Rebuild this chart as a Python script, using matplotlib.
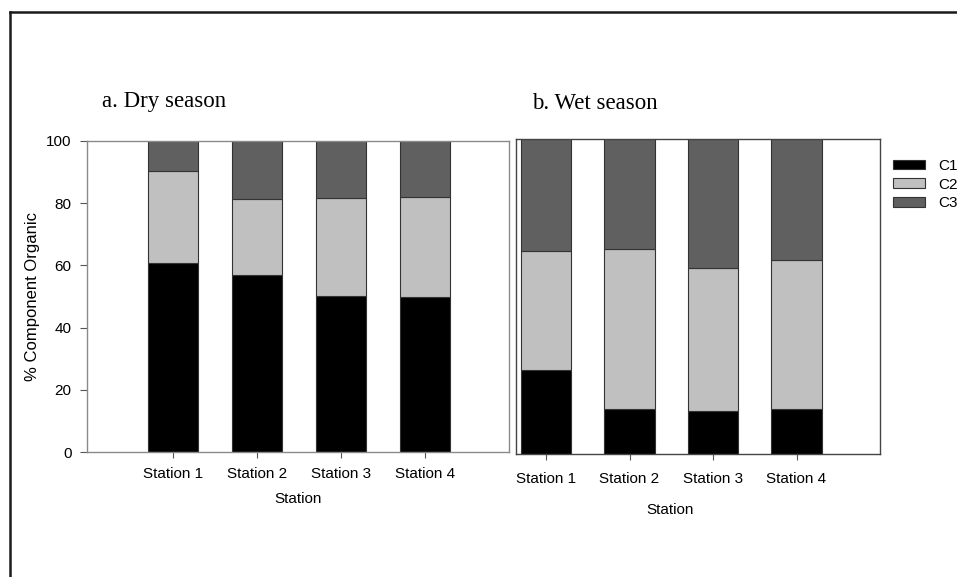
import matplotlib
matplotlib.use("Agg")
import matplotlib.pyplot as plt
from matplotlib.lines import Line2D
import numpy as np

# ── DATA ──────────────────────────────────────────────────
stations = ["Station 1", "Station 2", "Station 3", "Station 4"]
components = ["C1", "C2", "C3"]

# percent of each organic component per station
dry_c1 = [60.8, 56.8, 50.3, 49.9]
dry_c2 = [29.5, 24.4, 31.3, 32.0]
dry_c3 = [9.7, 18.8, 18.4, 18.1]

wet_c1 = [26.7, 14.4, 13.7, 14.2]
wet_c2 = [37.8, 50.8, 45.5, 47.5]
wet_c3 = [35.5, 34.8, 40.8, 38.3]

colors = ["#000000", "#c0c0c0", "#606060"]
edge = "#333333"

plt.rcParams["font.family"] = ["Liberation Sans", "DejaVu Sans"]

fig = plt.figure(figsize=(9.57, 5.77), dpi=100)
W, H = 957, 577


def px_axes(x0, y0, x1, y1):
    # axes from pixel box (top-left origin)
    return fig.add_axes([x0 / W, (H - y1) / H, (x1 - x0) / W, (y1 - y0) / H])


def stacked(ax, c1, c2, c3):
    x = np.arange(len(stations))
    bottom = np.zeros(len(stations))
    for vals, col, name in zip([c1, c2, c3], colors, components):
        ax.bar(x, vals, width=0.6, bottom=bottom, color=col,
               edgecolor=edge, linewidth=0.8, label=name)
        bottom += np.array(vals)
    ax.set_xticks(x)
    ax.set_xticklabels(stations, fontsize=11)
    ax.set_ylim(0, 100)
    ax.set_xlabel("Station", fontsize=11, labelpad=8)
    ax.tick_params(axis="x", direction="out", length=4, pad=7,
                   color="#555555")


# ── a. DRY SEASON ─────────────────────────────────────────
ax1 = px_axes(87, 141, 509, 452)
stacked(ax1, dry_c1, dry_c2, dry_c3)
ax1.set_xlim(-1.02, 4.0)
ax1.set_yticks([0, 20, 40, 60, 80, 100])
ax1.tick_params(axis="y", direction="out", length=5, pad=6,
                labelsize=11, color="#555555")
ax1.set_ylabel("% Component Organic", fontsize=12)
ax1.yaxis.set_label_coords(-0.112, 0.5)
for s in ax1.spines.values():
    s.set_color("#8a8a8a")
    s.set_linewidth(1.0)

# ── b. WET SEASON ─────────────────────────────────────────
ax2 = px_axes(516, 139, 880, 454)
stacked(ax2, wet_c1, wet_c2, wet_c3)
ax2.set_xlim(-0.36, 4.0)
ax2.set_yticks([])
for s in ax2.spines.values():
    s.set_color("#444444")
    s.set_linewidth(1.0)
ax2.tick_params(axis="x", pad=9)
ax2.xaxis.set_label_coords(0.423, -0.155)

# legend
handles, labels = ax2.get_legend_handles_labels()
fig.legend(handles, labels, loc="upper left",
           bbox_to_anchor=(893 / W, (H - 159) / H),
           frameon=False, fontsize=11, borderpad=0, borderaxespad=0,
           handlelength=2.1, handleheight=0.6, handletextpad=0.85,
           labelspacing=0.3)

# panel titles
fig.text(102 / W, (H - 106.5) / H, "a. Dry season", fontsize=16.5,
         family="Liberation Serif", va="baseline")
fig.text(532 / W, (H - 109) / H, "b. Wet season", fontsize=16.5,
         family="Liberation Serif", va="baseline")

# outer frame
yt = (H - 11.5) / H
xl = 9.5 / W
fig.add_artist(Line2D([xl, xl], [0, yt], transform=fig.transFigure,
                      color="#1a1a1a", linewidth=1.8))
fig.add_artist(Line2D([xl, 1.0], [yt, yt], transform=fig.transFigure,
                      color="#1a1a1a", linewidth=1.8))

plt.savefig("out.png", dpi=100)
